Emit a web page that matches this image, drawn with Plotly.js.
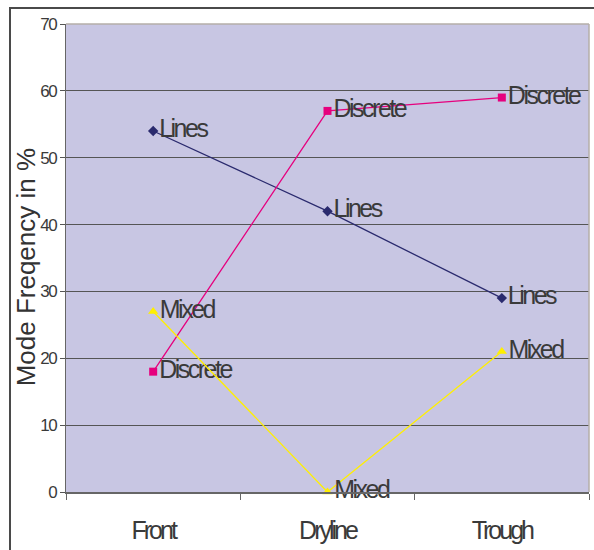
<!DOCTYPE html>
<html>
<head>
<meta charset="utf-8">
<script src="https://cdn.plot.ly/plotly-3.0.1.min.js"></script>
<style>
  html, body { margin: 0; padding: 0; background: #fff; }
  #wrap { position: relative; width: 594px; height: 550px; overflow: hidden; }
  #frame { position: absolute; left: 9px; top: 7px; width: 640px; height: 640px; border: 2px solid #4a4a4a; box-sizing: border-box; }
  #chart { position: absolute; left: 0; top: 0; width: 594px; height: 550px; }
</style>
</head>
<body>
<div id="wrap">
  <div id="frame"></div>
  <div id="chart"></div>
</div>
<script>
const categories = ["Front", "Dryline", "Trough"];
const linesVals = [54, 42, 29];
const discreteVals = [18, 57, 59];
const mixedVals = [27, 0, 21];
const yTicks = [0, 10, 20, 30, 40, 50, 60, 70];

const labelFont = { family: "Liberation Sans, Arial, sans-serif", size: 25, color: "#3a3a3a" };

function series(name, vals, color, symbol, size) {
  return {
    type: "scatter",
    mode: "lines+markers+text",
    x: categories,
    y: vals,
    name: name,
    text: vals.map(() => name),
    textposition: "middle right",
    textfont: labelFont,
    line: { color: color, width: 1.3 },
    marker: { color: color, symbol: symbol, size: size },
    cliponaxis: false,
    hoverinfo: "x+y+name"
  };
}

const data = [
  series("Lines", linesVals, "#2a2a6e", "diamond", 8),
  series("Discrete", discreteVals, "#e6007e", "square", 8),
  series("Mixed", mixedVals, "#ffef00", "triangle-up", 9)
];

const layout = {
  width: 594,
  height: 550,
  margin: { l: 66, r: 5, t: 24, b: 58 },
  paper_bgcolor: "rgba(0,0,0,0)",
  plot_bgcolor: "#c8c6e3",
  showlegend: false,
  xaxis: {
    type: "category",
    range: [-0.5, 2.5],
    tickson: "boundaries",
    ticks: "outside",
    ticklen: 6,
    tickcolor: "#666",
    showline: true,
    linecolor: "#666",
    linewidth: 1.5,
    showgrid: false,
    zeroline: false,
    tickfont: { family: "Liberation Sans, Arial, sans-serif", size: 25, color: "#3a3a3a" },
    ticklabelstandoff: 15
  },
  yaxis: {
    range: [0, 70],
    tickvals: yTicks,
    ticktext: yTicks.map(String),
    ticks: "outside",
    ticklen: 5,
    tickcolor: "#555",
    showline: true,
    linecolor: "#666",
    linewidth: 1.5,
    showgrid: true,
    gridcolor: "#555",
    gridwidth: 1,
    zeroline: false,
    tickfont: { family: "Liberation Sans, Arial, sans-serif", size: 17, color: "#3a3a3a" }
  },
  annotations: [
    {
      text: "Mode Freqency in %",
      xref: "paper", yref: "paper",
      x: (26 - 66) / 523, y: 0.48,
      xanchor: "center", yanchor: "middle",
      textangle: -90,
      showarrow: false,
      font: { family: "Liberation Sans, Arial, sans-serif", size: 26, color: "#333" }
    }
  ],
  shapes: [
    { type: "line", xref: "paper", yref: "paper", x0: 0, x1: 1, y0: 1, y1: 1, line: { color: "#b5aea8", width: 1.5 } },
    { type: "line", xref: "paper", yref: "paper", x0: 1, x1: 1, y0: 0, y1: 1, line: { color: "#b5aea8", width: 1.5 } }
  ]
};

Plotly.newPlot("chart", data, layout, { displayModeBar: false, staticPlot: true }).then(() => {
  document.querySelectorAll("#chart .textpoint text").forEach(t => { t.style.letterSpacing = "-2.5px"; });
  document.querySelectorAll("#chart .xtick text").forEach(t => { t.style.letterSpacing = "-3px"; });
  document.querySelectorAll("#chart .ytick text").forEach(t => { t.style.letterSpacing = "-1.5px"; });
});
</script>
</body>
</html>
